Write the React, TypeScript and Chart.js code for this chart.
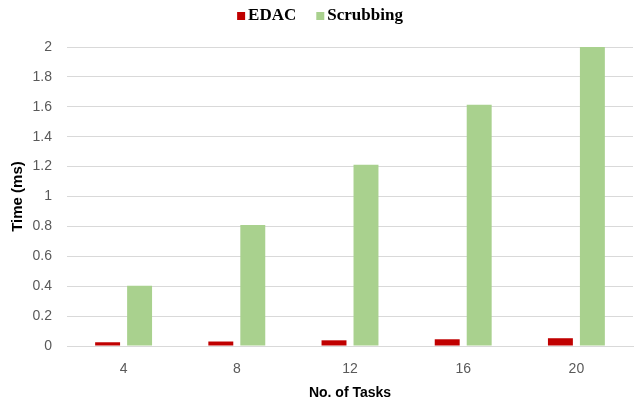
import React, { useEffect, useRef } from "react";
import { Chart, registerables } from "chart.js";

Chart.register(...registerables);

const categories = ["4", "8", "12", "16", "20"];
const edacValues = [0.025, 0.03, 0.038, 0.045, 0.052];
const scrubbingValues = [0.403, 0.81, 1.212, 1.613, 2.0];
const yTicks = [0, 0.2, 0.4, 0.6, 0.8, 1, 1.2, 1.4, 1.6, 1.8, 2];

const legendPlugin = {
  id: "customLegend",
  afterDraw(chart: any) {
    const ctx = chart.ctx;
    ctx.save();
    ctx.font = "bold 17px 'Liberation Serif', serif";
    ctx.textBaseline = "middle";
    const box = 8;
    const gap = 3;
    const itemGap = 20;
    const items = chart.data.datasets.map((d: any) => ({
      label: d.label,
      color: d.backgroundColor,
      w: ctx.measureText(d.label).width,
    }));
    const total =
      items.reduce((s: number, it: any) => s + box + gap + it.w, 0) +
      itemGap * (items.length - 1);
    let x = 320 - total / 2;
    const cy = 16;
    for (const it of items) {
      ctx.fillStyle = it.color;
      ctx.fillRect(x, cy - box / 2, box, box);
      ctx.fillStyle = "#000";
      ctx.fillText(it.label, x + box + gap, cy);
      x += box + gap + it.w + itemGap;
    }
    ctx.restore();
  },
};

export default function App() {
  const ref = useRef<HTMLCanvasElement | null>(null);

  useEffect(() => {
    document.body.style.margin = "0";
    const ctx = ref.current!;
    const chart = new Chart(ctx, {
      type: "bar",
      data: {
        labels: categories,
        datasets: [
          {
            label: "EDAC",
            data: edacValues,
            backgroundColor: "#C00000",
            categoryPercentage: 0.565,
            barPercentage: 0.78,
          },
          {
            label: "Scrubbing",
            data: scrubbingValues,
            backgroundColor: "#A9D18E",
            categoryPercentage: 0.565,
            barPercentage: 0.78,
          },
        ],
      },
      plugins: [legendPlugin],
      options: {
        animation: false,
        responsive: false,
        maintainAspectRatio: false,
        layout: { padding: { top: 47, right: 1, bottom: 0, left: 0 } },
        plugins: {
          legend: { display: false },
          tooltip: { enabled: false },
        },
        scales: {
          x: {
            afterFit: (s: any) => {
              s.height = 55;
            },
            grid: { display: false, drawTicks: false },
            border: { display: true, color: "#D9D9D9" },
            ticks: {
              color: "#595959",
              padding: 15,
              font: { family: "'Liberation Sans', sans-serif", size: 14 },
            },
            title: {
              display: true,
              text: "No. of Tasks",
              color: "#000",
              padding: { top: 0, bottom: -1 },
              font: { family: "'Liberation Sans', sans-serif", size: 14, weight: "bold" },
            },
          },
          y: {
            min: 0,
            max: 2,
            afterFit: (s: any) => {
              s.width = 67;
            },
            afterBuildTicks: (axis: any) => {
              axis.ticks = yTicks.map((v) => ({ value: v }));
            },
            grid: { color: "#D9D9D9", drawTicks: false },
            border: { display: false },
            ticks: {
              color: "#595959",
              padding: 15,
              font: { family: "'Liberation Sans', sans-serif", size: 14 },
              callback: (v: any) => String(Math.round(Number(v) * 10) / 10),
            },
            title: {
              display: true,
              text: "Time (ms)",
              color: "#000",
              padding: { top: 9, bottom: 0 },
              font: { family: "'Liberation Sans', sans-serif", size: 15, weight: "bold" },
            },
          },
        },
      },
    });
    return () => chart.destroy();
  }, []);

  return (
    <div style={{ width: 634, height: 401, background: "#fff" }}>
      <canvas ref={ref} width={634} height={401} style={{ display: "block" }} />
    </div>
  );
}
